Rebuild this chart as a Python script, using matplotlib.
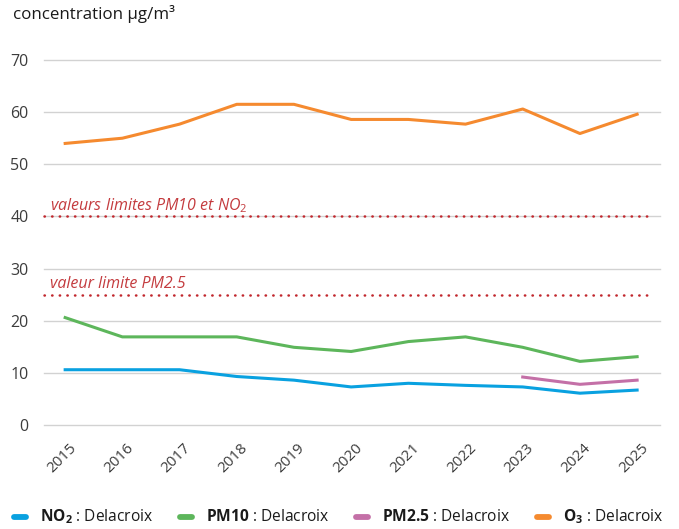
import matplotlib
matplotlib.use("Agg")
import matplotlib.pyplot as plt
import matplotlib.transforms as mtransforms
from matplotlib.lines import Line2D

# --- data -------------------------------------------------------------
years = ["2015", "2016", "2017", "2018", "2019", "2020",
         "2021", "2022", "2023", "2024", "2025"]
no2 = [10.6, 10.6, 10.6, 9.3, 8.6, 7.3, 8.0, 7.6, 7.3, 6.1, 6.7]
pm10 = [20.6, 16.9, 16.9, 16.9, 14.9, 14.1, 16.0, 16.9, 14.9, 12.2, 13.1]
pm25_years = ["2023", "2024", "2025"]
pm25 = [9.2, 7.8, 8.6]
o3 = [54.0, 55.0, 57.7, 61.5, 61.5, 58.6, 58.6, 57.7, 60.6, 55.9, 59.6]
limit_pm10_no2 = 40
limit_pm25 = 25
y_ticks = [0, 10, 20, 30, 40, 50, 60, 70]

# --- style ------------------------------------------------------------
FONT = "Open Sans"
plt.rcParams["font.family"] = [FONT, "DejaVu Sans"]
plt.rcParams["mathtext.fontset"] = "custom"
plt.rcParams["mathtext.rm"] = FONT
plt.rcParams["mathtext.it"] = FONT + ":italic"
plt.rcParams["mathtext.bf"] = FONT + ":bold"

C_NO2 = "#09a1e0"
C_PM10 = "#5db65b"
C_PM25 = "#c470a7"
C_O3 = "#f58a2f"
C_LIMIT = "#c1272d"
C_LIMIT_TXT = "#c43c3f"
C_TEXT = "#3c3c3c"

W, H = 679, 529
fig = plt.figure(figsize=(W / 100, H / 100), dpi=100)
left, right, top, bottom = 44, 660, 60, 425
ax = fig.add_axes([left / W, 1 - bottom / H, (right - left) / W, (bottom - top) / H])

x = list(range(len(years)))
x_pm25 = [years.index(y) for y in pm25_years]

ax.set_xlim(-0.37, 10.4)
ax.set_ylim(0, 70)

# gridlines
for v in y_ticks:
    ax.axhline(v, color="#d2d2d2", lw=1.0, zorder=1, clip_on=False)

# limit values
for lim in (limit_pm10_no2, limit_pm25):
    ax.axhline(lim, color=C_LIMIT, lw=1.8, ls=(0, (0.15, 2.9)),
               dash_capstyle="round", zorder=2, clip_on=False, xmax=0.99)
ax.text(-0.265, limit_pm10_no2 + 1.2, r"valeurs limites PM10 et NO$_\mathit{2}$",
        color=C_LIMIT_TXT, style="italic", fontsize=11.5, va="baseline", ha="left")
ax.text(-0.265, limit_pm25 + 1.3, "valeur limite PM2.5",
        color=C_LIMIT_TXT, style="italic", fontsize=11.5, va="baseline", ha="left")

# series
lw = 2.2
ax.plot(x, no2, color=C_NO2, lw=lw, zorder=3)
ax.plot(x, pm10, color=C_PM10, lw=lw, zorder=3)
ax.plot(x_pm25, pm25, color=C_PM25, lw=lw, zorder=3)
ax.plot(x, o3, color=C_O3, lw=lw, zorder=3)

# axes cosmetics
for s in ax.spines.values():
    s.set_visible(False)
ax.set_yticks(y_ticks)
ax.set_yticklabels([str(v) for v in y_ticks], fontsize=11.5, color=C_TEXT)
ax.set_xticks(x)
ax.set_xticklabels(years, rotation=45, fontsize=11, color=C_TEXT, ha="center")
ax.tick_params(axis="both", length=0)
ax.tick_params(axis="y", pad=11)
ax.tick_params(axis="x", pad=11)
shift = mtransforms.ScaledTranslation(-3.5 / 100, 0, fig.dpi_scale_trans)
for lbl in ax.get_xticklabels():
    lbl.set_transform(lbl.get_transform() + shift)

fig.text(13 / W, 1 - 14 / H, "concentration µg/m³", fontsize=12.2, color="#1a1a1a",
         ha="left", va="center")

# legend, laid out along the bottom edge
legend_items = [
    (C_NO2, r"$\mathbf{NO}_\mathbf{2}$ : Delacroix", 12),
    (C_PM10, r"$\mathbf{PM10}$ : Delacroix", 178),
    (C_PM25, r"$\mathbf{PM2.5}$ : Delacroix", 354),
    (C_O3, r"$\mathbf{O}_\mathbf{3}$ : Delacroix", 535),
]
ly = 1 - 517 / H
for color, label, px in legend_items:
    fig.add_artist(Line2D([(px + 2) / W, (px + 14) / W], [ly, ly], color=color,
                          lw=4.2, solid_capstyle="round", transform=fig.transFigure))
    fig.text((px + 28) / W, ly, label, fontsize=11.2, color="#1a1a1a",
             ha="left", va="center")

fig.savefig("out.png", dpi=100)
